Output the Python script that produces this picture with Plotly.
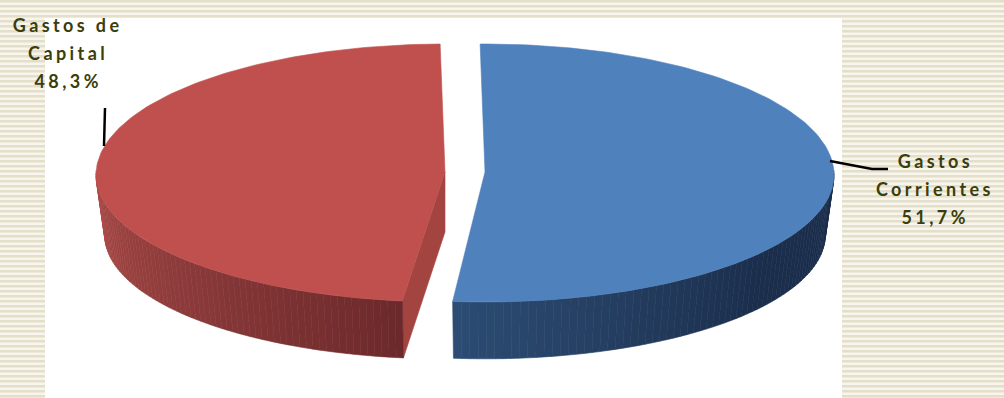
import math
import plotly.graph_objects as go

# --- data ---
categories = [["Gastos", "Corrientes"], ["Gastos de", "Capital"]]
values = [51.7, 48.3]

# --- style ---
top_colors = ["#4f81bd", "#c0504d"]
side_left = [(44, 76, 115), (172, 76, 73)]
side_right = [(27, 46, 76), (108, 41, 43)]
TEXT = "#3b3d0b"
W, H = 1004, 398

# pie geometry (pixels of the 1004x398 canvas used as axis units)
CY, RX, RY_UP, RY_DN, DEPTH, SCALE = 175.0, 349.0, 131.0, 127.0, 60.0, 0.975
CENTERS = [485.0, 445.0]
START = -0.8
CUT_EXTRA = [0.0, 1.7]


def pt(cx, a, bottom=False):
    r = math.radians(a)
    s, c = math.sin(r), math.cos(r)
    k = SCALE if bottom else 1.0
    ry = RY_UP if c > 0 else RY_DN
    return cx + RX * k * s, CY + (DEPTH if bottom else 0) - ry * k * c


def apex(cx, bottom=False):
    return cx, CY + (DEPTH if bottom else 0) - 3


def mix(a, b, t):
    return "rgb(%d,%d,%d)" % tuple(round(a[i] + (b[i] - a[i]) * t) for i in range(3))


def poly(pts, color):
    xs, ys = zip(*pts)
    return go.Scatter(x=list(xs) + [xs[0]], y=list(ys) + [ys[0]], mode="lines", fill="toself",
                      fillcolor=color, line=dict(color=color, width=0.6),
                      hoverinfo="skip", showlegend=False)


total = sum(values)
shares = [v / total * 360 for v in values]
blue_a0, blue_a1 = START, START + shares[0]
red_a0, red_a1 = blue_a1 + CUT_EXTRA[1], START + 360

traces = []
# red cut wall
cx = CENTERS[1]
traces.append(poly([apex(cx), pt(cx, red_a0), pt(cx, red_a0, True), apex(cx, True)], "#a34441"))
# red outer wall, front part only
N = 70
a_end = 272.0
for i in range(N):
    a = red_a0 + (a_end - red_a0) * i / N
    b = red_a0 + (a_end - red_a0) * (i + 1) / N
    t = (i + 0.5) / N
    traces.append(poly([pt(cx, a), pt(cx, b), pt(cx, b, True), pt(cx, a, True)],
                       mix(side_right[1], side_left[1], t)))
# red top
arc = [pt(cx, red_a0 + (red_a1 - red_a0) * i / 160) for i in range(161)]
traces.append(poly([apex(cx)] + arc, top_colors[1]))

# blue outer wall, front part only
cx = CENTERS[0]
a_start = 88.0
for i in range(N):
    a = blue_a1 - (blue_a1 - a_start) * i / N
    b = blue_a1 - (blue_a1 - a_start) * (i + 1) / N
    t = min(1.0, (i + 0.5) / N * 1.7)
    traces.append(poly([pt(cx, a), pt(cx, b), pt(cx, b, True), pt(cx, a, True)],
                       mix(side_left[0], side_right[0], t)))
# blue top
arc = [pt(cx, blue_a0 + (blue_a1 - blue_a0) * i / 160) for i in range(161)]
traces.append(poly([apex(cx)] + arc, top_colors[0]))

# leader lines
LINE_L = ([105, 104], [108, 146])
LINE_R = ([830, 872, 888], [161, 169, 169])
for xs, ys in (LINE_L, LINE_R):
    traces.append(go.Scatter(x=xs, y=ys, mode="lines", line=dict(color="#000000", width=2.5),
                             hoverinfo="skip", showlegend=False))

# background stripes
shapes = []
for y in range(0, H, 5):
    shapes.append(dict(type="rect", xref="x", yref="y", x0=0, x1=W, y0=y, y1=y + 2.6,
                       fillcolor="#e4dfcb", line=dict(width=0), layer="below"))
shapes.insert(0, dict(type="rect", xref="x", yref="y", x0=0, x1=W, y0=0, y1=H,
                      fillcolor="#f7f5ec", line=dict(width=0), layer="below"))
shapes.append(dict(type="rect", xref="x", yref="y", x0=45, x1=842, y0=18, y1=H,
                   fillcolor="#ffffff", line=dict(width=0), layer="below"))

# labels
def label_lines(i):
    return categories[i] + [f"{values[i]:.1f}".replace(".", ",") + "%"]


annotations = []
for i, (lx, ly) in enumerate([(935, 161), (68, 25)]):
    for j, line in enumerate(label_lines(i)):
        annotations.append(dict(x=lx, y=ly + 28 * j, xref="x", yref="y", text=f"<b>{line}</b>",
                                showarrow=False, xanchor="center", yanchor="middle",
                                font=dict(family="Lato", size=18, color=TEXT)))

fig = go.Figure(traces)
fig.update_layout(width=W, height=H, margin=dict(l=0, r=0, t=0, b=0),
                  paper_bgcolor="#ffffff", plot_bgcolor="rgba(0,0,0,0)",
                  showlegend=False, shapes=shapes, annotations=annotations,
                  xaxis=dict(visible=False, range=[0, W], fixedrange=True),
                  yaxis=dict(visible=False, range=[H, 0], fixedrange=True))

post = """
document.querySelectorAll('.annotation-text').forEach(function(t){t.style.letterSpacing='3.4px';});
document.body.style.margin='0';
"""
fig.write_html("out.html", post_script=post, config={"displayModeBar": False})
